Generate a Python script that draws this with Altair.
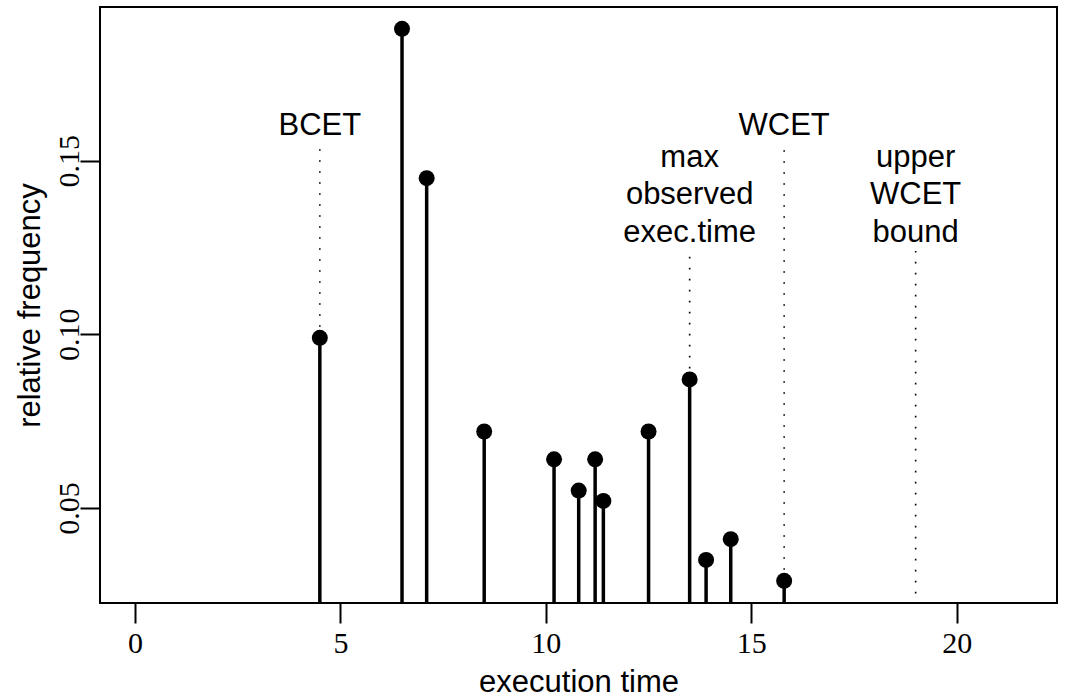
import altair as alt
import pandas as pd

# measured stems (execution time -> relative frequency)
exec_time = [4.5, 6.5, 7.1, 8.5, 10.2, 10.8, 11.2, 11.4, 12.5, 13.5, 13.9, 14.5, 15.8]
rel_freq = [0.099, 0.188, 0.145, 0.072, 0.064, 0.055, 0.064, 0.052, 0.072, 0.087, 0.035, 0.041, 0.029]

# dotted marker lines
marker_x = [4.5, 13.5, 15.8, 19.0]
marker_from = [0.099, 0.087, 0.029, 0.0]
marker_to = [0.155, 0.124, 0.155, 0.124]

# annotation text lines
label_x = [4.5, 13.5, 13.5, 13.5, 15.8, 19.0, 19.0, 19.0]
label_y = [0.160, 0.1507, 0.140, 0.1293, 0.160, 0.1507, 0.140, 0.1293]
label_text = ["BCET", "max", "observed", "exec.time", "WCET", "upper", "WCET", "bound"]

x_ticks = [0, 5, 10, 15, 20]
y_ticks = [0.05, 0.10, 0.15]
x_domain = [-0.85, 22.44]
y_domain = [0.0226, 0.1943]

stems = pd.DataFrame({"t": exec_time, "f": rel_freq})
markers = pd.DataFrame({"t": marker_x, "f0": marker_from, "f1": marker_to})
labels = pd.DataFrame({"t": label_x, "f": label_y, "txt": label_text})

xs = alt.Scale(domain=x_domain, nice=False, zero=False)
ys = alt.Scale(domain=y_domain, nice=False, zero=False)

xaxis = alt.Axis(
    values=x_ticks, format="d", title="execution time", domain=False, grid=False,
    tickSize=20, tickWidth=2, tickColor="black",
    labelFont="Liberation Serif", labelFontSize=30, labelColor="black",
    labelBaseline="alphabetic", labelPadding=29, labelFlush=False, labelOverlap=False,
    titleFont="Liberation Sans", titleFontSize=31, titleFontWeight="normal", titleColor="black",
    titleX=478.5, titleY=88, titleBaseline="alphabetic", titleAlign="center",
)
yaxis = alt.Axis(
    values=y_ticks, format=".2f", title="relative frequency", domain=False, grid=False,
    tickSize=20, tickWidth=2, tickColor="black",
    labelFont="Liberation Serif", labelFontSize=30, labelColor="black",
    labelAngle=270, labelAlign="center", labelBaseline="alphabetic", labelPadding=2,
    labelFlush=False, labelOverlap=False,
    titleFont="Liberation Sans", titleFontSize=31, titleFontWeight="normal", titleColor="black",
    titleAngle=270, titleX=-70, titleY=298, titleBaseline="middle", titleAlign="center",
)

stem_layer = alt.Chart(stems).mark_rule(color="black", strokeWidth=3.5, clip=True).encode(
    x=alt.X("t:Q", scale=xs, axis=xaxis),
    y=alt.Y("f:Q", scale=ys, axis=yaxis),
    y2=alt.datum(0),
)
point_layer = alt.Chart(stems).mark_circle(color="black", size=256, opacity=1).encode(
    x=alt.X("t:Q", scale=xs),
    y=alt.Y("f:Q", scale=ys),
)
marker_layer = alt.Chart(markers).mark_rule(
    color="black", strokeWidth=1.6, strokeDash=[1.6, 9.4], clip=True
).encode(
    x=alt.X("t:Q", scale=xs),
    y=alt.Y("f0:Q", scale=ys),
    y2="f1:Q",
)
text_layer = alt.Chart(labels).mark_text(
    font="Liberation Sans", fontSize=31, color="black", align="center", baseline="middle"
).encode(
    x=alt.X("t:Q", scale=xs),
    y=alt.Y("f:Q", scale=ys),
    text="txt:N",
)

chart = alt.layer(marker_layer, stem_layer, point_layer, text_layer).properties(
    width=957, height=596,
    padding={"left": 100, "top": 7, "right": 10, "bottom": 95},
    autosize=alt.AutoSizeParams(type="none"),
    background="white",
).configure_view(stroke="black", strokeWidth=2)

chart.save("out.html", embed_options={"renderer": "svg", "actions": False})
